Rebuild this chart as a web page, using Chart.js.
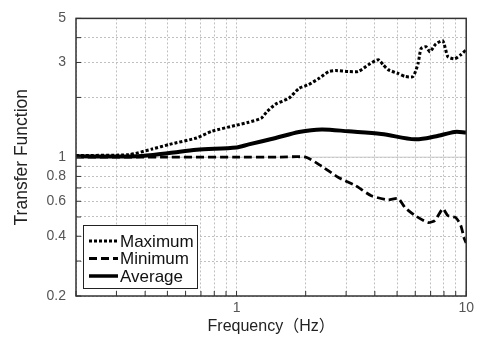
<!DOCTYPE html>
<html>
<head>
<meta charset="utf-8">
<script src="https://cdn.jsdelivr.net/npm/chart.js@4/dist/chart.umd.min.js"></script>
<style>
  body { margin: 0; background: #fff; }
  #wrap { width: 478px; height: 341px; }
</style>
</head>
<body>
<div id="wrap"><canvas id="c" width="478" height="341"></canvas></div>
<script>
// values (log-log)
const freqMax = [0.2, 0.34, 0.43, 0.51, 0.67, 0.78, 1.0, 1.13, 1.28, 1.36, 1.48, 1.69, 1.87, 2.06, 2.28, 2.52, 2.7, 3.07, 3.39, 3.75, 4.14, 4.35, 4.57, 5.05, 5.42, 5.87, 6.17, 6.36, 6.68, 6.95, 7.38, 7.91, 8.32, 8.91, 9.47, 10];
const valMax  = [1.02, 1.03, 1.1, 1.16, 1.25, 1.35, 1.45, 1.5, 1.57, 1.7, 1.85, 1.98, 2.22, 2.32, 2.49, 2.7, 2.73, 2.7, 2.7, 2.92, 3.1, 2.92, 2.76, 2.64, 2.55, 2.55, 2.96, 3.52, 3.6, 3.4, 3.72, 3.85, 3.21, 3.13, 3.28, 3.48];

const freqMin = [0.2, 0.5, 1.0, 1.5, 2.0, 2.35, 2.78, 3.29, 3.86, 4.57, 5.05, 5.42, 5.99, 6.81, 7.31, 7.91, 8.32, 9.0, 9.47, 9.8, 10];
const valMin  = [1.0, 1.0, 1.0, 1.0, 1.0, 0.9, 0.79, 0.72, 0.64, 0.61, 0.62, 0.557, 0.508, 0.469, 0.48, 0.55, 0.508, 0.497, 0.453, 0.39, 0.37];

const freqAvg = [0.2, 0.37, 0.51, 0.67, 1.0, 1.13, 1.48, 1.87, 2.35, 3.07, 4.27, 5.99, 7.31, 8.91, 10];
const valAvg  = [1.01, 1.01, 1.05, 1.09, 1.12, 1.16, 1.25, 1.34, 1.38, 1.35, 1.31, 1.23, 1.27, 1.34, 1.33];

const xGrid = [0.2, 0.3, 0.4, 0.5, 0.6, 0.7, 0.8, 0.9, 1, 2, 3, 4, 5, 6, 7, 8, 9, 10];
const xLabels = [1, 10];
const yGrid = [0.2, 0.3, 0.4, 0.5, 0.6, 0.7, 0.8, 0.9, 1, 2, 3, 4, 5];
const yLabels = [0.2, 0.4, 0.6, 0.8, 1, 3, 5];

const toPoints = (xs, ys) => xs.map((x, i) => ({ x: x, y: ys[i] }));

// frame, inward ticks, solid line at 1 and the boxed legend
const framePlugin = {
  id: 'frame',
  beforeDatasetsDraw(chart) {
    const { ctx, chartArea: a, scales } = chart;
    const y1 = scales.y.getPixelForValue(1);
    ctx.save();
    ctx.strokeStyle = '#c8c8c8';
    ctx.lineWidth = 1;
    ctx.beginPath();
    ctx.moveTo(a.left, y1);
    ctx.lineTo(a.right, y1);
    ctx.stroke();
    ctx.restore();
  },
  afterDatasetsDraw(chart) {
    const { ctx, chartArea: a, scales } = chart;
    ctx.save();
    ctx.strokeStyle = '#333';
    ctx.lineWidth = 1.5;
    ctx.strokeRect(a.left, a.top, a.right - a.left, a.bottom - a.top);

    ctx.lineWidth = 1;
    ctx.beginPath();
    xGrid.forEach(v => {
      const px = scales.x.getPixelForValue(v);
      ctx.moveTo(px, a.bottom);
      ctx.lineTo(px, a.bottom - 5);
    });
    yGrid.forEach(v => {
      const py = scales.y.getPixelForValue(v);
      ctx.moveTo(a.left, py);
      ctx.lineTo(a.left + 5, py);
    });
    ctx.stroke();

    // legend box
    const bx = 83, by = 225, bw = 114, bh = 63;
    ctx.fillStyle = '#fff';
    ctx.fillRect(bx, by, bw, bh);
    ctx.strokeStyle = '#222';
    ctx.lineWidth = 1;
    ctx.strokeRect(bx + 0.5, by + 0.5, bw, bh);
    ctx.font = '17px "Liberation Sans", Arial, sans-serif';
    ctx.textBaseline = 'middle';
    chart.data.datasets.forEach((ds, i) => {
      const ry = by + 16 + i * 17.5;
      ctx.strokeStyle = ds.borderColor;
      ctx.lineWidth = Math.min(ds.borderWidth, 3.5);
      ctx.setLineDash(ds.borderDash || []);
      ctx.beginPath();
      ctx.moveTo(bx + 6, ry);
      ctx.lineTo(bx + 35, ry);
      ctx.stroke();
      ctx.setLineDash([]);
      ctx.fillStyle = '#111';
      ctx.fillText(ds.label, bx + 37, ry + 1);
    });
    ctx.restore();
  }
};

new Chart(document.getElementById('c'), {
  type: 'line',
  data: {
    datasets: [
      {
        label: 'Maximum',
        data: toPoints(freqMax, valMax),
        borderColor: '#000',
        borderWidth: 3,
        borderDash: [3, 2],
        pointRadius: 0,
        tension: 0.2
      },
      {
        label: 'Minimum',
        data: toPoints(freqMin, valMin),
        borderColor: '#000',
        borderWidth: 2.8,
        borderDash: [8, 4],
        pointRadius: 0,
        tension: 0.2
      },
      {
        label: 'Average',
        data: toPoints(freqAvg, valAvg),
        borderColor: '#000',
        borderWidth: 4,
        pointRadius: 0,
        tension: 0.3
      }
    ]
  },
  options: {
    responsive: false,
    animation: false,
    layout: { padding: { top: 16, right: 9, left: 0, bottom: 0 } },
    plugins: {
      legend: { display: false },
      tooltip: { enabled: false }
    },
    scales: {
      x: {
        type: 'logarithmic',
        min: 0.2,
        max: 10,
        afterBuildTicks: s => { s.ticks = xGrid.map(v => ({ value: v })); },
        afterFit: s => { s.height = 45; },
        grid: { color: '#c0c0c0', drawTicks: false },
        border: { display: false, dash: [2, 2] },
        ticks: {
          autoSkip: false,
          maxRotation: 0,
          padding: 4,
          color: '#555',
          font: { family: '"Liberation Sans", Arial, sans-serif', size: 14 },
          callback: v => xLabels.includes(v) ? String(v) : ''
        },
        title: {
          display: true,
          text: 'Frequency（Hz）',
          color: '#222',
          padding: { top: 0, bottom: 5 },
          font: { family: '"Liberation Sans", "Noto Sans CJK JP", sans-serif', size: 16 }
        }
      },
      y: {
        type: 'logarithmic',
        min: 0.2,
        max: 5,
        afterBuildTicks: s => { s.ticks = yGrid.map(v => ({ value: v })); },
        afterFit: s => { s.width = 76; },
        grid: { color: '#c0c0c0', drawTicks: false },
        border: { display: false, dash: [2, 2] },
        ticks: {
          autoSkip: false,
          padding: 10,
          color: '#555',
          font: { family: '"Liberation Sans", Arial, sans-serif', size: 14 },
          callback: v => yLabels.includes(v) ? String(v) : ''
        },
        title: {
          display: true,
          text: 'Transfer Function',
          color: '#222',
          padding: { top: 12, bottom: 0 },
          font: { family: '"Liberation Sans", Arial, sans-serif', size: 17.5 }
        }
      }
    }
  },
  plugins: [framePlugin]
});
</script>
</body>
</html>
